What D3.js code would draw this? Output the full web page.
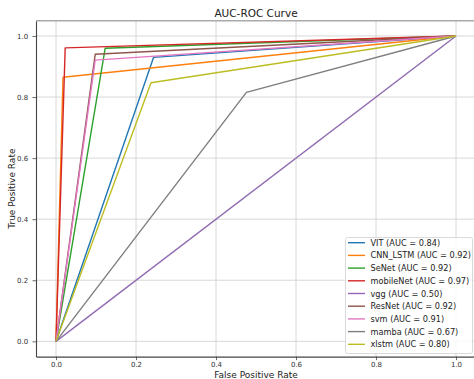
<!DOCTYPE html>
<html><head><meta charset="utf-8">
<script src="https://cdn.jsdelivr.net/npm/d3@7"></script>
<style>
html,body{margin:0;padding:0;background:#fff;}
svg{display:block;font-family:"DejaVu Sans",sans-serif;}
</style></head>
<body>
<svg id="c" width="474" height="379"></svg>
<script>
const models = ["VIT","CNN_LSTM","SeNet","mobileNet","vgg","ResNet","svm","mamba","xlstm"];
const aucs = ["0.84","0.92","0.92","0.97","0.50","0.92","0.91","0.67","0.80"];
const colors = ["#1f77b4","#ff7f0e","#2ca02c","#d62728","#9467bd","#8c564b","#e377c2","#7f7f7f","#bcbd22"];
const fprVIT = [0, 0.244, 1], tprVIT = [0, 0.930, 1];
const fprCNN = [0, 0.0175, 1], tprCNN = [0, 0.865, 1];
const fprSeNet = [0, 0.123, 1], tprSeNet = [0, 0.960, 1];
const fprMobile = [0, 0.023, 1], tprMobile = [0, 0.961, 1];
const fprVgg = [0, 1], tprVgg = [0, 1];
const fprResNet = [0, 0.098, 1], tprResNet = [0, 0.940, 1];
const fprSvm = [0, 0.098, 1], tprSvm = [0, 0.921, 1];
const fprMamba = [0, 0.476, 1], tprMamba = [0, 0.8155, 1];
const fprXlstm = [0, 0.2375, 1], tprXlstm = [0, 0.847, 1];
const fprs = [fprVIT,fprCNN,fprSeNet,fprMobile,fprVgg,fprResNet,fprSvm,fprMamba,fprXlstm];
const tprs = [tprVIT,tprCNN,tprSeNet,tprMobile,tprVgg,tprResNet,tprSvm,tprMamba,tprXlstm];
const ticks = [0,0.2,0.4,0.6,0.8,1.0];

const svg = d3.select("#c");
const x = d3.scaleLinear().domain([-0.05,1.05]).range([36,476]);
const y = d3.scaleLinear().domain([-0.05,1.05]).range([356.6,20.7]);

// grid
const g = svg.append("g");
g.selectAll(".gx").data(ticks).join("line")
  .attr("x1",d=>x(d)).attr("x2",d=>x(d)).attr("y1",y(-0.05)).attr("y2",y(1.05))
  .attr("stroke","#d4d4d4").attr("stroke-width",0.9);
g.selectAll(".gy").data(ticks).join("line")
  .attr("y1",d=>y(d)).attr("y2",d=>y(d)).attr("x1",x(-0.05)).attr("x2",x(1.05))
  .attr("stroke","#d4d4d4").attr("stroke-width",0.9);

// curves
const line = d3.line().x(d=>x(d[0])).y(d=>y(d[1]));
models.forEach((m,i)=>{
  const pts = fprs[i].map((f,j)=>[f,tprs[i][j]]);
  svg.append("path").attr("d",line(pts)).attr("fill","none")
    .attr("stroke",colors[i]).attr("stroke-width",1.4).attr("stroke-linejoin","round");
});
// diagonal reference
svg.append("path").attr("d",line([[0,0],[1,1]])).attr("fill","none")
  .attr("stroke","#888").attr("stroke-width",1.0).attr("stroke-dasharray","4,3").attr("opacity",0.6);

// axes
const xa = svg.append("g").attr("transform",`translate(0,${y(-0.05)})`)
  .call(d3.axisBottom(x).tickValues(ticks).tickFormat(d3.format(".1f")).tickSize(3.5).tickSizeOuter(0));
const ya = svg.append("g").attr("transform",`translate(${x(-0.05)},0)`)
  .call(d3.axisLeft(y).tickValues(ticks).tickFormat(d3.format(".1f")).tickSize(3.5).tickSizeOuter(0));
[xa,ya].forEach(a=>{
  a.select(".domain").attr("stroke","#444").attr("stroke-width",1.1);
  a.selectAll(".tick line").attr("stroke","#444").attr("stroke-width",0.8);
  a.selectAll(".tick text").attr("font-size",7).attr("fill","#333").attr("font-family","DejaVu Sans");
});
xa.selectAll(".tick text").attr("y",5).attr("dy","0.71em");
ya.selectAll(".tick text").attr("dx","-0.2em");
// top & right spines
svg.append("line").attr("x1",x(-0.05)).attr("x2",x(1.05)).attr("y1",y(1.05)).attr("y2",y(1.05))
  .attr("stroke","#aaa").attr("stroke-width",1.6);
svg.append("line").attr("x1",x(1.05)).attr("x2",x(1.05)).attr("y1",y(1.05)).attr("y2",y(-0.05))
  .attr("stroke","#444").attr("stroke-width",1.1);

// labels
svg.append("text").attr("x",256).attr("y",17).attr("text-anchor","middle")
  .attr("font-size",10.5).attr("fill","#222").text("AUC-ROC Curve");
svg.append("text").attr("x",256).attr("y",378).attr("text-anchor","middle")
  .attr("font-size",9).attr("fill","#222").text("False Positive Rate");
svg.append("text").attr("transform",`translate(15,${(y(-0.05)+y(1.05))/2}) rotate(-90)`)
  .attr("text-anchor","middle").attr("font-size",9).attr("fill","#222").text("True Positive Rate");

// legend
const lg = svg.append("g");
lg.append("rect").attr("x",345.5).attr("y",237.5).attr("width",127).attr("height",116).attr("rx",2)
  .attr("fill","#fff").attr("fill-opacity",0.85).attr("stroke","#d0d0d0").attr("stroke-width",0.8);
models.forEach((m,i)=>{
  const yy = 242.7 + i*12.7;
  lg.append("line").attr("x1",348).attr("x2",365).attr("y1",yy).attr("y2",yy)
    .attr("stroke",colors[i]).attr("stroke-width",1.4);
  lg.append("text").attr("x",370.5).attr("y",yy+3).attr("font-size",8.2).attr("fill","#222")
    .text(`${m} (AUC = ${aucs[i]})`);
});
</script>
</body></html>
